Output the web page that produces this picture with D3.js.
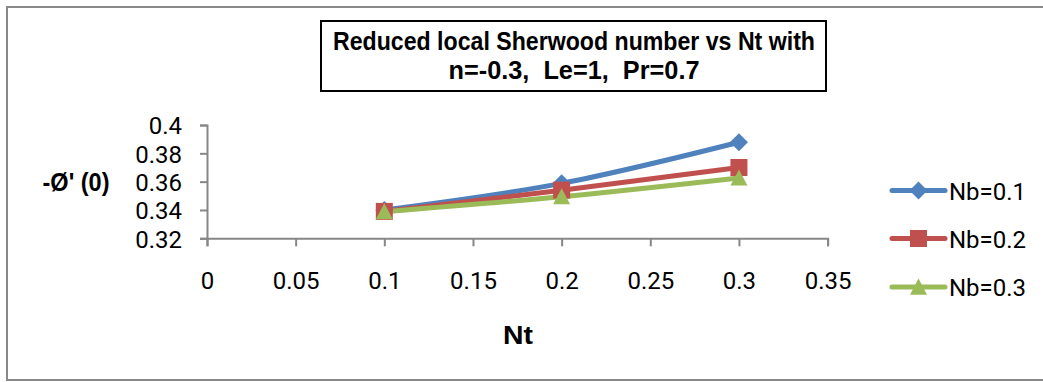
<!DOCTYPE html>
<html>
<head>
<meta charset="utf-8">
<script src="https://cdn.jsdelivr.net/npm/d3@7/dist/d3.min.js"></script>
<style>
  html, body { margin: 0; padding: 0; background: #fff; }
  svg { display: block; }
</style>
</head>
<body>
<svg id="chart" width="1043" height="382"></svg>
<script>
// Reduced local Sherwood number -φ'(0) against Nt, one series per Nb
const ntValues = [0.1, 0.2, 0.3];
const nb01 = [0.3400, 0.3588, 0.3878];
const nb02 = [0.3390, 0.3540, 0.3700];
const nb03 = [0.3388, 0.3494, 0.3626];
const seriesNames = ["Nb=0.1", "Nb=0.2", "Nb=0.3"];
const seriesColors = ["#4F81BD", "#C0504D", "#9BBB59"];
const seriesMarkers = ["diamond", "square", "triangle"];
const xTicks = [0, 0.05, 0.1, 0.15, 0.2, 0.25, 0.3, 0.35];
const yTicks = [0.32, 0.34, 0.36, 0.38, 0.4];
const titleLines = ["Reduced local Sherwood number vs Nt with", "n=-0.3,  Le=1,  Pr=0.7"];

const series = [nb01, nb02, nb03].map((vals, i) => ({
  name: seriesNames[i],
  color: seriesColors[i],
  marker: seriesMarkers[i],
  points: vals.map((v, j) => ({ x: ntValues[j], y: v }))
}));

const svg = d3.select("#chart");
const tickFont = "Roboto, 'Open Sans', sans-serif";
const boldFont = "'Liberation Sans Narrow', 'Liberation Sans', Arial, sans-serif";

// chart area frame
svg.append("rect")
  .attr("x", 7).attr("y", 7)
  .attr("width", 1060).attr("height", 373)
  .attr("fill", "#fff").attr("stroke", "#898989").attr("stroke-width", 2);

const x = d3.scaleLinear().domain([0, 0.35]).range([207, 827.6]);
const y = d3.scaleLinear().domain([0.32, 0.4]).range([238.3, 125]);

// axes
const xAxis = svg.append("g")
  .attr("transform", `translate(0,${y(0.32)})`)
  .call(d3.axisBottom(x).tickValues(xTicks).tickSize(8).tickPadding(26)
    .tickFormat(d => String(+d.toFixed(2))));
const yAxis = svg.append("g")
  .attr("transform", `translate(${x(0)},0)`)
  .call(d3.axisLeft(y).tickValues(yTicks).tickSize(7).tickPadding(18)
    .tickFormat(d => String(+d.toFixed(2))));

[xAxis, yAxis].forEach(g => {
  g.select(".domain").attr("stroke", "#878787").attr("stroke-width", 2);
  g.selectAll(".tick line").attr("stroke", "#878787").attr("stroke-width", 2);
  g.selectAll(".tick text")
    .attr("fill", "#000")
    .style("font-family", tickFont)
    .style("font-size", "24px");
});
yAxis.selectAll(".tick text").attr("dy", "0.37em");

// series lines (smoothed) and markers
const line = d3.line()
  .x(d => x(d.x)).y(d => y(d.y))
  .curve(d3.curveCatmullRom.alpha(0.5));

function markerPath(type, size) {
  const h = size / 2;
  if (type === "diamond") return `M0,${-h}L${h},0L0,${h}L${-h},0Z`;
  if (type === "square") return `M${-h},${-h}H${h}V${h}H${-h}Z`;
  return `M0,${-h}L${h},${h * 0.9}L${-h},${h * 0.9}Z`;
}
const markerSize = { diamond: 18, square: 17, triangle: 17 };

series.forEach(s => {
  svg.append("path")
    .datum(s.points)
    .attr("d", line)
    .attr("fill", "none")
    .attr("stroke", s.color)
    .attr("stroke-width", 5)
    .attr("stroke-linejoin", "round");
});
series.forEach(s => {
  svg.append("g").selectAll("path")
    .data(s.points)
    .join("path")
    .attr("transform", d => `translate(${x(d.x)},${y(d.y)})`)
    .attr("d", markerPath(s.marker, markerSize[s.marker]))
    .attr("fill", s.color);
});

// title box
svg.append("rect")
  .attr("x", 321).attr("y", 21)
  .attr("width", 505).attr("height", 70)
  .attr("fill", "#fff").attr("stroke", "#000").attr("stroke-width", 2);
const titleLengths = [482, 251];
titleLines.forEach((t, i) => {
  svg.append("text")
    .attr("x", 574).attr("y", 50 + i * 29)
    .attr("text-anchor", "middle")
    .attr("textLength", titleLengths[i])
    .attr("lengthAdjust", "spacingAndGlyphs")
    .style("font-family", boldFont)
    .style("font-weight", "bold")
    .style("font-size", "26px")
    .style("white-space", "pre")
    .text(t);
});

// axis titles
svg.append("text")
  .attr("x", 76).attr("y", 191)
  .attr("text-anchor", "middle")
  .attr("textLength", 67).attr("lengthAdjust", "spacingAndGlyphs")
  .style("font-family", boldFont).style("font-weight", "bold").style("font-size", "25px")
  .text("-Ø' (0)");
svg.append("text")
  .attr("x", 518).attr("y", 344)
  .attr("text-anchor", "middle")
  .attr("textLength", 30).attr("lengthAdjust", "spacingAndGlyphs")
  .style("font-family", boldFont).style("font-weight", "bold").style("font-size", "25px")
  .text("Nt");

// legend
const legendY = [190.5, 238.5, 287];
const legend = svg.append("g").selectAll("g")
  .data(series)
  .join("g")
  .attr("transform", (d, i) => `translate(892,${legendY[i]})`);
legend.append("line")
  .attr("x1", 0).attr("x2", 53)
  .attr("stroke", d => d.color).attr("stroke-width", 5).attr("stroke-linecap", "round");
legend.append("path")
  .attr("transform", "translate(26.5,0)")
  .attr("d", d => markerPath(d.marker, markerSize[d.marker]))
  .attr("fill", d => d.color);
legend.append("text")
  .attr("x", 57).attr("y", 9)
  .style("font-family", tickFont).style("font-size", "24px")
  .text(d => d.name);
</script>
</body>
</html>
